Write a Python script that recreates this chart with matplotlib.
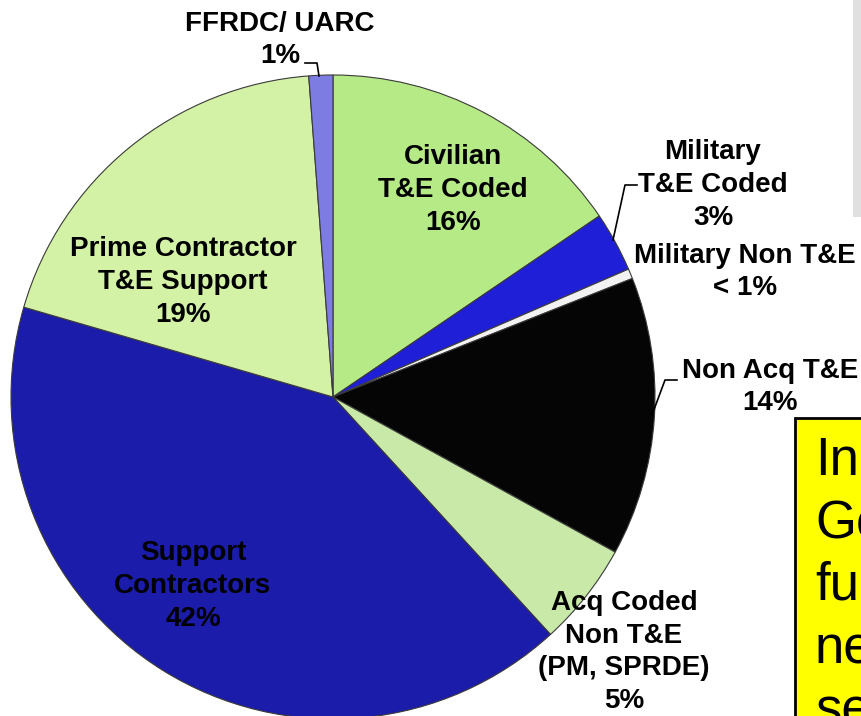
import numpy as np
import matplotlib.pyplot as plt
from matplotlib.patches import Rectangle

# slices, clockwise from 12 o'clock
categories = ['Civilian\nT&E Coded', 'Military\nT&E Coded', 'Military Non T&E',
              'Non Acq T&E', 'Acq Coded\nNon T&E\n(PM, SPRDE)', 'Support\nContractors',
              'Prime Contractor\nT&E Support', 'FFRDC/ UARC']
values = [15.5, 3.0, 0.5, 14.0, 5.2, 41.3, 19.3, 1.2]
pct_labels = ['16%', '3%', '< 1%', '14%', '5%', '42%', '19%', '1%']
colors = ['#b6ea86', '#1f1fd8', '#f2f2f2', '#050505', '#c9e9a9', '#1c1caa', '#d3f2a6', '#7d7ce2']

# label centres in pixel coords (x, y from top)
label_pos = [(453, 190), (713, 185), (745, 272), (770, 387),
             (624, 652), (193, 586), (183, 282), (280, 40)]

W, H = 862, 716


def main():
    fig = plt.figure(figsize=(W / 100, H / 100), dpi=100)
    ax = fig.add_axes([0, 0, 1, 1])

    ax.pie(values, colors=colors, startangle=90, counterclock=False,
           center=(333, H - 397), radius=322,
           wedgeprops=dict(edgecolor='#3a3a3a', linewidth=0.8))

    ax.set_xlim(0, W)
    ax.set_ylim(0, H)
    ax.set_aspect('equal')
    ax.axis('off')

    # labels
    for name, pct, (x, y) in zip(categories, pct_labels, label_pos):
        ax.text(x, H - y, name + '\n' + pct, ha='center', va='center',
                fontsize=20, fontweight='bold', family='Liberation Sans',
                linespacing=1.33, color='black')

    # leader lines
    ax.plot([305, 317, 319], [H - 63, H - 63, H - 76], color='black', lw=1.2)
    ax.plot([637, 625, 613], [H - 185, H - 185, H - 240], color='black', lw=1.2)
    ax.plot([677, 665, 652], [H - 380, H - 380, H - 415], color='black', lw=1.2)

    # grey box top right
    ax.add_patch(Rectangle((853, H - 217), 20, 230, facecolor='#e0e0e0',
                           edgecolor='none', clip_on=True))

    # yellow callout box, cut off by the slide edge
    ax.add_patch(Rectangle((795, -20), 100, H - 418 + 20, facecolor='#ffff00',
                           edgecolor='black', linewidth=2, clip_on=True))
    ax.text(815, H - 436, 'Inherently\nGovernmental\nfunctions\nneed\nsenior',
            ha='left', va='top', fontsize=38, family='Liberation Sans',
            linespacing=1.32, color='black', clip_on=True)

    fig.savefig('out.png', dpi=100)


if __name__ == "__main__":
    main()
